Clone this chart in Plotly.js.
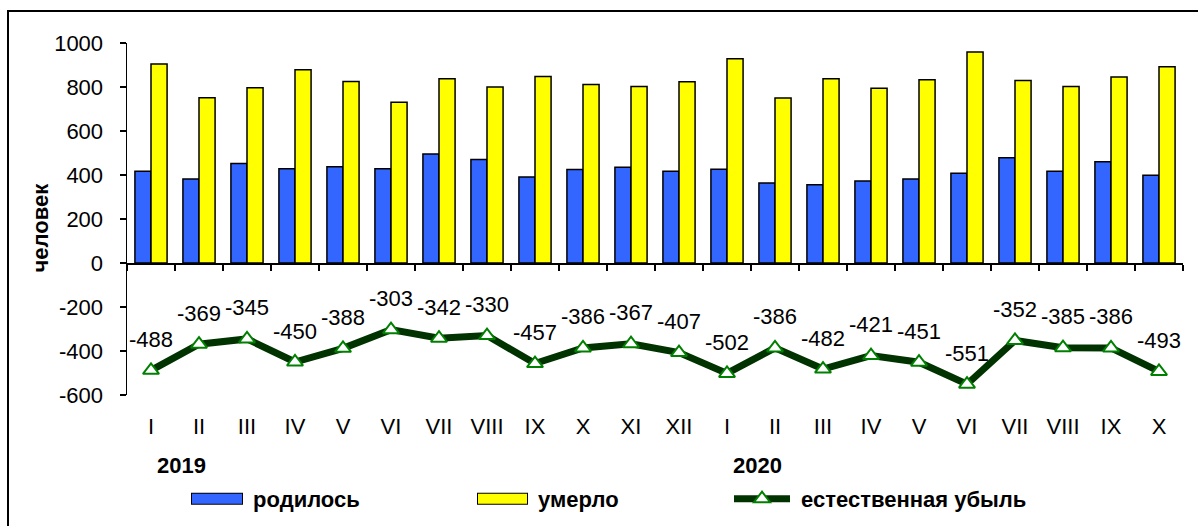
<!DOCTYPE html>
<html>
<head>
<meta charset="utf-8">
<script src="https://cdn.plot.ly/plotly-3.0.1.min.js"></script>
<style>
  html, body { margin: 0; padding: 0; background: #fff; }
  #wrap { position: relative; width: 1198px; height: 526px; overflow: hidden; }
  #chart { position: absolute; left: 0; top: 0; width: 1198px; height: 526px; }
  #frame { position: absolute; left: 7px; top: 10px; width: 1300px; height: 600px;
           border-left: 2px solid #000; border-top: 2px solid #000; pointer-events: none; }
</style>
</head>
<body>
<div id="wrap">
  <div id="chart"></div>
  <div id="frame"></div>
</div>
<script>
// ---- data ----
const months = ["I","II","III","IV","V","VI","VII","VIII","IX","X","XI","XII",
                "I","II","III","IV","V","VI","VII","VIII","IX","X"];
const years = ["2019", "2020"];
const yearStartIndex = [0, 12];
const born = [417,382,452,428,437,428,495,470,391,425,435,417,
              426,364,356,373,382,408,478,417,460,399];
const died = [905,751,797,878,825,731,837,800,848,811,802,824,
              928,750,838,794,833,959,830,802,846,892];
const decrease = [-488,-369,-345,-450,-388,-303,-342,-330,-457,-386,-367,-407,
                  -502,-386,-482,-421,-451,-551,-352,-385,-386,-493];
const seriesNames = ["родилось", "умерло", "естественная убыль"];
const yTickVals = [-600,-400,-200,0,200,400,600,800,1000];
const yTickText = ["-600","-400","-200","0","200","400","600","800","1000"];
const yTitle = "человек";

const idx = months.map((m, i) => i);
const FONT = "Liberation Sans, Arial, sans-serif";
const FS = 22;
const NB = "\u00a0";

const outline = (leg) => ({ type: "scatter", mode: "lines", x: [null], y: [null], name: NB,
  legend: leg, line: { color: "#000000", width: 10 }, hoverinfo: "skip" });

const traces = [
  { type: "bar", x: idx, y: born, name: seriesNames[0], showlegend: false,
    marker: { color: "#3366FF", line: { color: "#000", width: 1.5 } } },
  { type: "bar", x: idx, y: died, name: seriesNames[1], showlegend: false,
    marker: { color: "#FFFF00", line: { color: "#000", width: 1.5 } } },
  // legend swatch outlines for bars (drawn first, under the coloured swatches)
  outline("legend"), outline("legend2"), outline("legend3"), outline("legend4"),
  // legend swatches for bars
  { type: "scatter", mode: "lines", x: [null], y: [null], name: NB + seriesNames[0],
    legend: "legend5", line: { color: "#3366FF", width: 10 }, hoverinfo: "skip" },
  { type: "scatter", mode: "lines", x: [null], y: [null], name: NB + seriesNames[1],
    legend: "legend6", line: { color: "#FFFF00", width: 10 }, hoverinfo: "skip" },
  { type: "scatter", mode: "lines+markers", x: idx, y: decrease, name: NB + seriesNames[2],
    legend: "legend7",
    line: { color: "#003300", width: 7 },
    marker: { symbol: "triangle-up", size: 14, color: "#FFFFFF",
              line: { color: "#008000", width: 2 } } },
  // zero-line axis carrier
  { type: "scatter", mode: "markers", x: [0], y: [null], xaxis: "x2", yaxis: "y",
    showlegend: false, hoverinfo: "skip", marker: { opacity: 0 } }
];

const labelAnnotations = decrease.map((v, i) => ({
  x: i, y: v, xref: "x", yref: "y", text: String(v), showarrow: false,
  yshift: 31, font: { family: FONT, size: FS, color: "#000" }
}));

const yearAnnotations = years.map((t, k) => ({
  x: yearStartIndex[k], y: -0.199, xref: "x", yref: "paper", text: "<b>" + t + "</b>",
  showarrow: false, xanchor: "left", yanchor: "middle", xshift: 4,
  font: { family: FONT, size: FS, color: "#000" }
}));

const LY = -0.295;
const dy = 1 / 351;
const legendCommon = {
  orientation: "h", yanchor: "middle", xanchor: "left", y: LY,
  bgcolor: "rgba(0,0,0,0)", itemclick: false, itemdoubleclick: false,
  font: { family: FONT, size: FS, color: "#000", weight: "bold" }
};
const px = p => (p - 127) / 1056;
const L = (o) => Object.assign({}, legendCommon, o);

const layout = {
  width: 1198, height: 526,
  margin: { l: 127, r: 15, t: 43, b: 131, autoexpand: false },
  paper_bgcolor: "rgba(0,0,0,0)", plot_bgcolor: "rgba(0,0,0,0)",
  font: { family: FONT, size: FS, color: "#000" },
  barmode: "group", bargap: 0.33, bargroupgap: 0,
  xaxis: {
    range: [-0.5, 21.5], tickvals: idx, ticktext: months,
    showline: false, ticks: "", showgrid: false, zeroline: false,
    ticklabelstandoff: 16, tickfont: { family: FONT, size: FS }
  },
  xaxis2: {
    overlaying: "x", anchor: "free", position: 0.375, range: [-0.5, 21.5],
    tickvals: idx.map(i => i - 0.5).concat([21.5]),
    showticklabels: false, ticks: "outside", ticklen: 6, tickwidth: 1.5, tickcolor: "#000",
    showline: true, linecolor: "#000", linewidth: 1.5, showgrid: false, zeroline: false
  },
  yaxis: {
    range: [-600, 1000], tickvals: yTickVals, ticktext: yTickText,
    showgrid: false, zeroline: false,
    showline: true, linecolor: "#000", linewidth: 1.5,
    ticks: "outside", ticklen: 6, tickwidth: 1.5, tickcolor: "#000",
    ticklabelstandoff: 12, tickfont: { family: FONT, size: FS }
  },
  legend:  L({ x: px(186), y: LY + dy, itemwidth: 52 }),
  legend2: L({ x: px(186), y: LY - dy, itemwidth: 52 }),
  legend3: L({ x: px(472), y: LY + dy, itemwidth: 51 }),
  legend4: L({ x: px(472), y: LY - dy, itemwidth: 51 }),
  legend5: L({ x: px(187), itemwidth: 50 }),
  legend6: L({ x: px(473), itemwidth: 49 }),
  legend7: L({ x: px(729), itemwidth: 56 }),
  annotations: labelAnnotations.concat(yearAnnotations).concat([{
    x: px(40), y: 0.476, xref: "paper", yref: "paper", text: "<b>" + yTitle + "</b>",
    textangle: -90, showarrow: false, xanchor: "center", yanchor: "middle",
    font: { family: FONT, size: FS, color: "#000" }
  }]),
  showlegend: true
};

Plotly.newPlot("chart", traces, layout, { staticPlot: true, displayModeBar: false });
</script>
</body>
</html>
